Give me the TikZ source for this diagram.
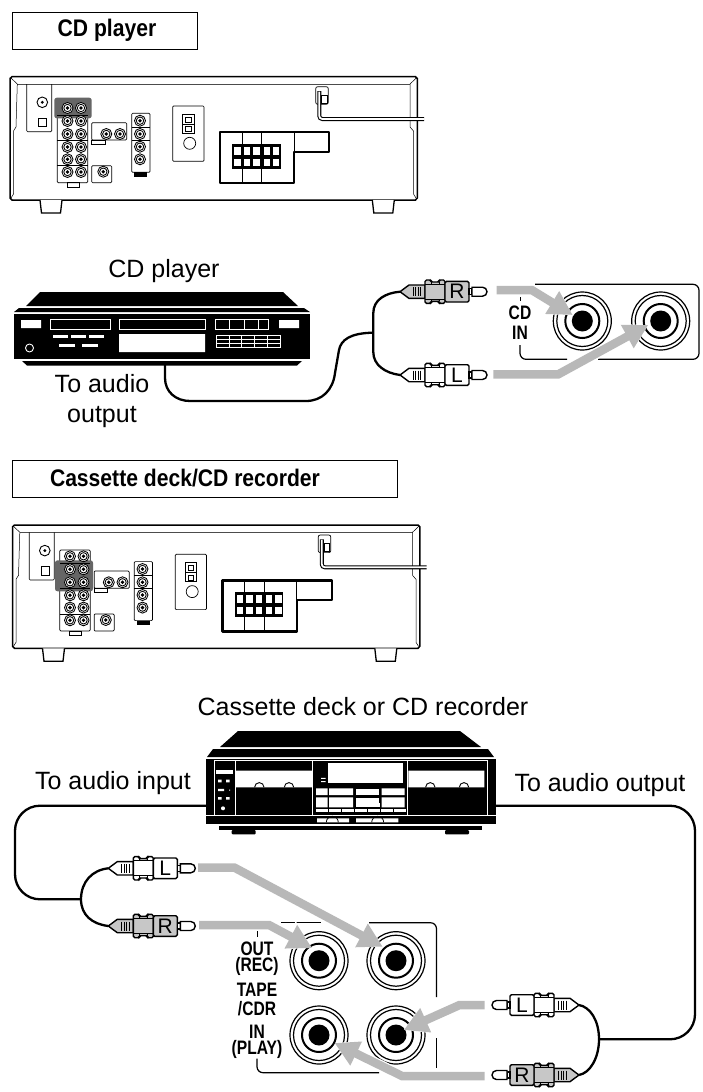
\documentclass[tikz,border=0pt]{standalone}
\usepackage{fontspec}
\setmainfont{Liberation Sans}
\newfontfamily\titlefont[FakeStretch=0.88]{Liberation Sans}
\newfontfamily\jackfont[FakeStretch=0.8]{Liberation Sans}
\usetikzlibrary{arrows.meta}
\tikzset{
  smalljack/.pic={
    \draw[fill=white,line width=.85pt] (0,0) circle[radius=5.5];
    \draw[line width=.85pt] (0,0) circle[radius=3.7];
    \fill (0,0) circle[radius=1.9];
  },
  bigjack/.pic={
    \draw[line width=1.2pt] (0,0) circle[radius=29];
    \draw[line width=1.2pt] (0,0) circle[radius=25.5];
    \draw[line width=2pt] (0,0) circle[radius=17];
    \fill (0,0) circle[radius=10.5];
  },
  pics/rcaplug/.style n args={2}{code={
    \draw[fill=#1,line width=1.4pt,line join=round] (0,0) -- (9,-6.7) -- (25,-6.7) -- (25,6.7) -- (9,6.7) -- cycle;
    \foreach \sx in {13,15.5,18,20.5} \draw[line width=.6pt] (\sx,-4.5) -- (\sx,4.5);
    \draw[fill=#1,line width=1.4pt,rounded corners=1.5] (25,-11.7) -- (31,-11.7) -- (31,-9.7) -- (39,-9.7) -- (39,-11.7) -- (45,-11.7) -- (45,11.7) -- (39,11.7) -- (39,9.7) -- (31,9.7) -- (31,11.7) -- (25,11.7) -- cycle;
    \draw[line width=.8pt] (25,-7.5) -- (45,-7.5) (25,7.5) -- (45,7.5) (31,-9.7) -- (31,-7.5) (39,-9.7) -- (39,-7.5) (31,9.7) -- (31,7.5) (39,9.7) -- (39,7.5);
    \draw[fill=#1,line width=1.4pt,rounded corners=1.5] (45,-10.3) rectangle (69,10.3);
    \draw[fill=white,line width=1.4pt] (69,-3) rectangle (72,3);
    \draw[fill=white,line width=1.4pt] (72,-4.5) -- (82.5,-4.5) arc[start angle=-90,end angle=90,radius=4.5] -- (72,4.5) -- cycle;
    \node[font=\fontsize{21}{21}\selectfont,inner sep=0pt] (-letter) at (57,0) {#2};
  }},
  pics/rearpanel/.style={code={
    \draw[line width=1.5pt,fill=white] (12,76.7) -- (415.5,76.7) -- (417.3,78.5) -- (417.3,198) -- (415.5,200) -- (12,200) -- (10,198) -- (10,78.5) -- cycle;
    \draw[line width=1.3pt,fill=white] (40,200) -- (41.5,213) -- (60.5,213) -- (62,200);
    \draw[line width=1.3pt,fill=white] (372.3,200) -- (373.8,213) -- (392.8,213) -- (394.3,200);
    \draw[line width=1pt,black!70] (17.3,84) -- (410,84);
    \draw[line width=.5pt] (11,78) -- (17.3,84) (416.3,78) -- (410,84);
    \draw[line width=.5pt] (17.3,84) -- (16,127) -- (13.5,131) -- (13.5,194) -- (11,198);
    \draw[line width=.5pt] (410,84) -- (410,127) -- (413.5,131) -- (413.5,194) -- (416,198);
    % left panel
    \draw[line width=.6pt,rounded corners=1] (26.7,84) -- (26.7,131.7) -- (51.7,131.7) -- (51.7,84);
    \draw[line width=.9pt] (42.3,102.3) circle[radius=5.3];
    \fill (42.3,102.3) circle[radius=1.6];
    \draw[line width=.6pt] (38.3,118.3) rectangle (46.7,126.7);
    % jack boards
    \draw[line width=.7pt,rounded corners=1] (57.3,101.7) rectangle (87.7,182.7);
    \draw[line width=.7pt] (67,182.7) rectangle (79.3,187);
    \draw[line width=.7pt,rounded corners=1] (91.7,122.7) rectangle (126.7,140);
    \draw[line width=.7pt] (91.7,140) rectangle (105,144.3);
    \draw[line width=.7pt,rounded corners=1] (91.7,165.7) rectangle (111.7,182.7);
    \draw[line width=.7pt,rounded corners=1] (131.7,113.3) rectangle (150,172.3);
    \draw[line width=.7pt] (131.7,127.3) -- (150,127.3) (131.7,140) -- (150,140);
    \fill (134.3,172.3) rectangle (147.3,176.7);
    \fill[black!60,rounded corners=2.5] #1;
    \draw[line width=1pt] (57.3,115) -- (87.7,115);
    \draw[line width=.8pt] (57.3,140) -- (87.7,140) (57.3,165.7) -- (87.7,165.7);
    \foreach \jy in {108,121,134,147,159.3,172}
      \foreach \jx in {67.5,81} \pic at (\jx,\jy) {smalljack};
    \pic at (106.3,134) {smalljack};
    \pic at (120,134) {smalljack};
    \pic at (103.3,171.7) {smalljack};
    \foreach \jy in {120.7,134,146.7,159.3} \pic at (140,\jy) {smalljack};
    % socket
    \draw[line width=.7pt,rounded corners=1] (172.7,106) rectangle (204,161.3);
    \draw[line width=.8pt] (182.7,114.3) rectangle (194,133.3) (182.7,124) -- (194,124);
    \draw[line width=.6pt] (185.5,117) rectangle (191,122) (185.5,126.5) rectangle (191,131.5);
    \draw[line width=.7pt] (189.7,143.3) circle[radius=6];
    % speaker terminals
    \draw[line width=2.3pt,line join=round] (220,132.3) -- (329.3,132.3) -- (329.3,151.7) -- (294.3,151.7) -- (294.3,183.3) -- (220,183.3) -- cycle;
    \draw[line width=.8pt] (242.3,132.3) -- (242.3,183.3) (261.7,132.3) -- (261.7,183.3) (294.3,132.3) -- (294.3,151.7);
    \fill (232.3,144) rectangle (280.7,169);
    \foreach \tx in {237.3,247,256.3,266.7,276}
      \foreach \ty in {150.7,162.3} \fill[white] (\tx-3.2,\ty-3.8) rectangle (\tx+3.2,\ty+3.8);
    % power cord
    \draw[line width=.7pt,rounded corners=2] (315.7,86.7) rectangle (328.3,104.3);
    \draw[line width=.7pt] (321.7,95) rectangle (327.3,103.3);
    \draw[line width=4pt,rounded corners=3] (319.3,91) -- (319.3,119) -- (424,119);
    \draw[line width=1.8pt,white,rounded corners=3] (319.3,91.5) -- (319.3,119) -- (424.5,119);
  }}
}
\begin{document}
\begin{tikzpicture}[x=1pt,y=-1pt,
    labeltext/.style={font=\fontsize{25}{30}\selectfont,align=center,inner sep=0pt},
    titlebox/.style={draw,line width=1pt,minimum height=37pt},
    titletext/.style={font=\titlefont\bfseries\fontsize{24}{24}\selectfont,inner sep=0pt},
    jacklabel/.style={font=\jackfont\bfseries\fontsize{19.5}{19.5}\selectfont,inner sep=0pt},
    cable/.style={line width=2.3pt},
    panelline/.style={line width=1.2pt},
    flowhalo/.style={white,line width=11pt,-{Triangle[length=27pt,width=30pt]}},
    flow/.style={black!28,line width=8.5pt,-{Triangle[length=24pt,width=25pt]}}]
  \useasboundingbox (0,0) rectangle (703,1092);

  % CD player section
  \node[titlebox,minimum width=185pt] (cdtitle) at (104.5,30.5) {};
  \node[titletext] (cdtitletext) at (107,30) {CD player};
  \pic at (0,0) {rearpanel={(54.3,97.7) rectangle (91.7,118.3)}};
  \node[labeltext] (cdname) at (164,271) {CD player};
  \node[labeltext] (cdoutput) at (102,401.5) {To audio\\output};

  \fill (40,292) -- (283,292) -- (298,306) -- (26,306) -- cycle;
  \fill (19,308) -- (304,308) -- (310,312) -- (14,312) -- cycle;
  \fill (14,314) rectangle (310,359);
  \fill (22,361) -- (302,361) -- (297,365.5) -- (27,365.5) -- cycle;
  \fill[white] (21,320) rectangle (41,328) (279,320) rectangle (299,328) (119,334) rectangle (205,352);
  \draw[white,line width=.8pt] (50.5,319.5) rectangle (110,329) (119,319.5) rectangle (205,329) (215,319.5) rectangle (268.5,329)
    (229.5,319.5) -- (229.5,329) (244,319.5) -- (244,329) (258,319.5) -- (258,329);
  \foreach \bx in {53,71,89} \fill[white] (\bx,335) rectangle +(15,3);
  \foreach \bx in {59,82} \fill[white] (\bx,344) rectangle +(15.5,3);
  \draw[white,line width=.9pt] (29.5,348) circle[radius=4];
  \draw[white,line width=.8pt] (216,335) rectangle (280.5,347) (216,339) -- (280.5,339) (216,343) -- (280.5,343);
  \foreach \gx in {229,241.5,254,267} \draw[white,line width=.8pt] (\gx,335) -- (\gx,347);

  \coordinate (cdport) at (165,365);
  \coordinate (cdjoin) at (373.3,332.7);
  \coordinate (cdr) at (400,291.7);
  \coordinate (cdl) at (400,375);
  \draw[cable] (cdport) -- (165,378) .. controls (165,392) and (176,401) .. (190,401) -- (306,401)
    .. controls (322,401) and (333,390) .. (335,373) -- (339,350) .. controls (341,340) and (350,333) .. (cdjoin);
  \draw[cable] (cdr) .. controls (385,293) and (373.3,300) .. (373.3,313) -- (cdjoin) -- (373.3,352) .. controls (373.3,365) and (385,373) .. (cdl);
  \pic (cdrplug) at (cdr) {rcaplug={black!22}{R}};
  \pic (cdlplug) at (cdl) {rcaplug={white}{L}};

  \draw[panelline,rounded corners=6] (535,284.3) -- (699,284.3) -- (699,359.3) -- (598,359.3);
  \draw[panelline,rounded corners=6] (567,359.3) -- (520,359.3) -- (520,345);
  \draw[line width=.9pt] (520,297) -- (520,301);
  \node[jacklabel] (cdtext) at (520,313) {CD};
  \node[jacklabel] (intext) at (520,333) {IN};
  \pic at (582.3,321) {bigjack};
  \pic at (660.7,321) {bigjack};
  \coordinate (cdrin) at (572.7,315);
  \coordinate (cdlin) at (648.3,325);
  \coordinate (cdrfrom) at (496.7,290);
  \coordinate (cdlfrom) at (493.3,374.3);
  \draw[flowhalo] (531.7,290) -- (cdrin);
  \draw[flowhalo] (558.3,374.3) -- (cdlin);
  \draw[flow] (cdrfrom) -- (531.7,290) -- (cdrin);
  \draw[flow] (cdlfrom) -- (558.3,374.3) -- (cdlin);

  % cassette deck section
  \node[titlebox,minimum width=385pt] (decktitle) at (204.5,479) {};
  \node[titletext] (decktitletext) at (185,478) {Cassette deck/CD recorder};
  \pic at (2.5,448.3) {rearpanel={(52.5,112) rectangle (90.5,143)}};
  \node[labeltext] (deckname) at (363,707) {Cassette deck or CD recorder};
  \node[labeltext] (deckinput) at (113,783) {To audio input};
  \node[labeltext] (deckoutput) at (600,785) {To audio output};

  \fill (238,731) -- (460,731) -- (481,747) -- (220,747) -- cycle;
  \fill (213,749) -- (488,749) -- (494,757) -- (207,757) -- cycle;
  \fill (206,758.5) rectangle (496,824);
  \fill (219,825.5) rectangle (481.7,830.3);
  \fill[rounded corners=1] (231.7,830) rectangle (255.7,834.3) (445,830) rectangle (469,834.3);
  \draw[white,line width=.9pt] (214,760.5) rectangle (487,815) (235,760.5) -- (235,815) (312.7,760.5) -- (312.7,815) (407,760.5) -- (407,815);
  \draw[white,line width=.9pt] (206,815.5) -- (214,815.5) (487,815.5) -- (496,815.5);
  \fill[white] (235.7,770.7) rectangle (312,787.3) (408.3,770.7) rectangle (484.3,787.3);
  \foreach \hx in {259.3,289,430.3,464} \draw[line width=.9pt] (\hx-4.7,787.3) arc[start angle=180,end angle=360,radius=4.7];
  \fill[white] (327.7,763.3) rectangle (403.3,783.3);
  \fill[white] (321,777.8) rectangle (325.7,778.8) (321,781.2) rectangle (325.7,782.2);
  \fill[white] (215.7,770) rectangle (233.3,774.3);
  \foreach \ay in {781,798.3} \fill[white] (218,\ay-1.3) rectangle (221.5,\ay+1.3) (226,\ay-1.3) rectangle (229.5,\ay+1.3);
  \fill[white] (218,788.8) rectangle (224,791.2) (229,789.5) rectangle (230,790.5);
  \fill[white] (223,808.3) circle[radius=2];
  \fill[white] (316,788.3) rectangle (327.5,795) (329,788.3) rectangle (353,795) (381.5,788.3) rectangle (404.5,795);
  \fill[white] (316,797.3) rectangle (327.5,807.3) (329,797.3) rectangle (353,807.3) (381.5,797.3) rectangle (404.5,807.3);
  \filldraw[fill=white,draw=black,line width=.7pt] (355.5,788.3) rectangle (379.5,795) (355.5,797.3) rectangle (379.5,803);
  \fill[white] (355.5,803) rectangle (379.5,807.3);
  \foreach \sx in {316,329,342,355,368,381,394} \fill[white] (\sx,809) rectangle +(11.5,3.3);
  \fill[white] (317,818.3) rectangle (349,822.3) (356,818.3) rectangle (398.3,822.3);
  \foreach \hx in {332.3,377.7} \draw[line width=.8pt] (\hx-6,822.3) arc[start angle=180,end angle=360,radius=6];

  \coordinate (deckin) at (206,805.7);
  \coordinate (deckout) at (496,805.7);
  \coordinate (tapejoin) at (81,899.3);
  \coordinate (outl) at (108.3,868.3);
  \coordinate (outr) at (108.3,926);
  \coordinate (backjoin) at (599,1039.3);
  \coordinate (backl) at (579,1005);
  \coordinate (backr) at (579,1075);
  \draw[cable,rounded corners=25] (deckin) -- (15,805.7) -- (15,899.3) -- (tapejoin);
  \draw[cable] (outl) .. controls (92,870) and (81,882) .. (tapejoin) .. controls (81,915) and (92,924) .. (outr);
  \pic (outlplug) at (outl) {rcaplug={white}{L}};
  \pic (outrplug) at (outr) {rcaplug={black!22}{R}};
  \draw[cable,rounded corners=25] (deckout) -- (695,805.7) -- (695,1039.3) -- (backjoin);
  \draw[cable] (backl) .. controls (590,1007) and (599,1020) .. (backjoin) .. controls (599,1058) and (590,1073) .. (backr);
  \pic[xscale=-1] (backlplug) at (backl) {rcaplug={white}{L}};
  \pic[xscale=-1] (backrplug) at (backr) {rcaplug={black!22}{R}};

  \draw[panelline] (281,922.7) -- (321,922.7);
  \draw[panelline,rounded corners=6] (369,922.7) -- (436.5,922.7) -- (436.5,997);
  \draw[panelline] (436.5,1038) -- (436.5,1068);
  \draw[panelline,rounded corners=6] (379,1072.7) -- (257,1072.7) -- (257,1058.5);
  \draw[line width=.9pt] (257,931) -- (257,937);
  \node[jacklabel] (outtext) at (257,948.5) {OUT};
  \node[jacklabel] (rectext) at (257,966) {(REC)};
  \node[jacklabel] (tapetext) at (257,989.3) {TAPE};
  \node[jacklabel] (cdrtext) at (257,1009) {/CDR};
  \node[jacklabel] (inplaytext) at (257,1031.5) {IN};
  \node[jacklabel] (playtext) at (257,1049) {(PLAY)};
  \foreach \jx in {319,396} \foreach \jy in {960.7,1035} \pic at (\jx,\jy) {bigjack};
  \coordinate (lrec) at (382.7,946.7);
  \coordinate (rrec) at (312,948);
  \coordinate (lplay) at (403.8,1030);
  \coordinate (rplay) at (334.6,1043);
  \draw[flowhalo] (234.6,867.7) -- (lrec);
  \draw[flowhalo] (269,925) -- (rrec);
  \draw[flowhalo] (459.6,1005) -- (lplay);
  \draw[flowhalo] (402,1076) -- (rplay);
  \draw[flow] (198,867.7) -- (234.6,867.7) -- (lrec);
  \draw[flow] (199,925) -- (269,925) -- (rrec);
  \draw[flow] (484.6,1005) -- (459.6,1005) -- (lplay);
  \draw[flow] (484.6,1076) -- (402,1076) -- (rplay);
\end{tikzpicture}
\end{document}
